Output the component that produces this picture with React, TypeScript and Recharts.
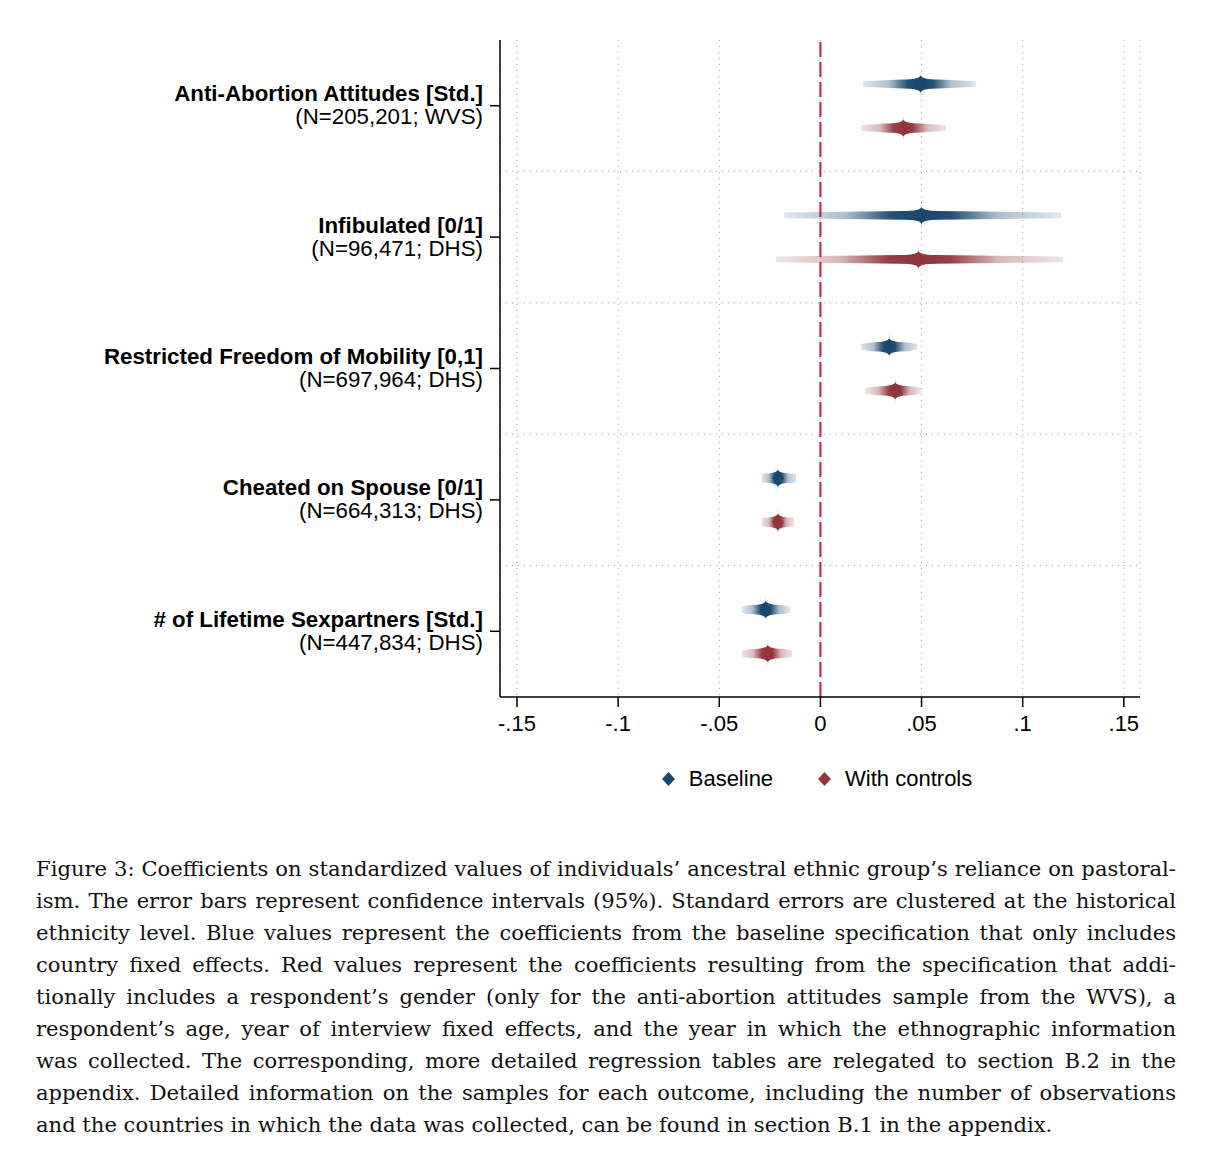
import React from "react";
import {
  BarChart,
  Bar,
  XAxis,
  YAxis,
  CartesianGrid,
  ReferenceLine,
  Legend,
} from "recharts";

// outcomes (top to bottom) and their sample notes
const OUTCOMES = [
  "Anti-Abortion Attitudes [Std.]",
  "Infibulated [0/1]",
  "Restricted Freedom of Mobility [0,1]",
  "Cheated on Spouse [0/1]",
  "# of Lifetime Sexpartners [Std.]",
];
const SAMPLES = [
  "(N=205,201; WVS)",
  "(N=96,471; DHS)",
  "(N=697,964; DHS)",
  "(N=664,313; DHS)",
  "(N=447,834; DHS)",
];

// baseline: coefficient and 95% CI
const BASE_COEF = [0.0495, 0.05, 0.034, -0.021, -0.027];
const BASE_LO = [0.021, -0.018, 0.02, -0.029, -0.039];
const BASE_HI = [0.077, 0.119, 0.048, -0.012, -0.015];

// with controls: coefficient and 95% CI
const CTRL_COEF = [0.041, 0.0485, 0.037, -0.021, -0.026];
const CTRL_LO = [0.02, -0.022, 0.022, -0.029, -0.039];
const CTRL_HI = [0.062, 0.12, 0.05, -0.013, -0.014];

const X_TICKS = [-0.15, -0.1, -0.05, 0, 0.05, 0.1, 0.15];
const X_TICK_LABELS = ["-.15", "-.1", "-.05", "0", ".05", ".1", ".15"];

const CAPTION = [
  "Figure 3: Coefficients on standardized values of individuals’ ancestral ethnic group’s reliance on pastoral-",
  "ism. The error bars represent confidence intervals (95%). Standard errors are clustered at the historical",
  "ethnicity level. Blue values represent the coefficients from the baseline specification that only includes",
  "country fixed effects. Red values represent the coefficients resulting from the specification that addi-",
  "tionally includes a respondent’s gender (only for the anti-abortion attitudes sample from the WVS), a",
  "respondent’s age, year of interview fixed effects, and the year in which the ethnographic information",
  "was collected. The corresponding, more detailed regression tables are relegated to section B.2 in the",
  "appendix. Detailed information on the samples for each outcome, including the number of observations",
  "and the countries in which the data was collected, can be found in section B.1 in the appendix.",
];

const BLUE = "#1a476f";
const RED = "#90353b";
const ZERO_LINE = "#c41a46";
const FONT = "'Liberation Sans', Arial, Helvetica, sans-serif";

const data = OUTCOMES.map((outcome, i) => ({
  outcome,
  sample: SAMPLES[i],
  base: [BASE_LO[i], BASE_HI[i]],
  baseCoef: BASE_COEF[i],
  ctrl: [CTRL_LO[i], CTRL_HI[i]],
  ctrlCoef: CTRL_COEF[i],
}));

// spindle-shaped CI with a faded gradient and a diamond at the estimate
function makeSpindle(color: string, rangeKey: string, coefKey: string, id: string) {
  return function Spindle(props: any) {
    const { x, y, width, height, payload, index } = props;
    const L = Math.min(x, x + width);
    const R = Math.max(x, x + width);
    const w = R - L;
    const [lo, hi] = payload[rangeKey];
    const f = (payload[coefKey] - lo) / (hi - lo);
    const px = L + w * f;
    const cy = y + height / 2;
    const e = 2.8;
    const m = 4.4;
    const a = Math.min(18, px - L);
    const b = Math.min(18, R - px);
    const gid = `${id}-${index}`;
    const body =
      `M${L},${cy - e} L${px - a},${cy - m} Q${px - 1.5},${cy - m} ${px},${cy - 8.5} ` +
      `Q${px + 1.5},${cy - m} ${px + b},${cy - m} L${R},${cy - e} L${R},${cy + e} ` +
      `L${px + b},${cy + m} Q${px + 1.5},${cy + m} ${px},${cy + 8.5} ` +
      `Q${px - 1.5},${cy + m} ${px - a},${cy + m} L${L},${cy + e} Z`;
    const spike =
      `M${px - 2.5},${cy} Q${px - 0.4},${cy - 4} ${px},${cy - 14} Q${px + 0.4},${cy - 4} ${px + 2.5},${cy} ` +
      `Q${px + 0.4},${cy + 4} ${px},${cy + 14} Q${px - 0.4},${cy + 4} ${px - 2.5},${cy} Z`;
    const s = (t: number) => f * t;
    const r = (t: number) => f + (1 - f) * t;
    return (
      <g>
        <defs>
          <linearGradient id={gid} gradientUnits="userSpaceOnUse" x1={L} x2={R} y1={cy} y2={cy}>
            <stop offset={0} stopColor={color} stopOpacity={0.13} />
            <stop offset={s(0.45)} stopColor={color} stopOpacity={0.35} />
            <stop offset={s(0.78)} stopColor={color} stopOpacity={0.95} />
            <stop offset={f} stopColor={color} stopOpacity={1} />
            <stop offset={r(0.22)} stopColor={color} stopOpacity={0.95} />
            <stop offset={r(0.55)} stopColor={color} stopOpacity={0.35} />
            <stop offset={1} stopColor={color} stopOpacity={0.13} />
          </linearGradient>
        </defs>
        <path d={body} fill={`url(#${gid})`} />
        <path d={spike} fill={color} fillOpacity={0.25} />
        <polygon
          points={`${px},${cy - 6.5} ${px + 6},${cy} ${px},${cy + 6.5} ${px - 6},${cy}`}
          fill={color}
        />
      </g>
    );
  };
}

const OutcomeTick = (props: any) => {
  const { x, y, payload } = props;
  const i = OUTCOMES.indexOf(payload.value);
  return (
    <g>
      <text x={x} y={y - 12} textAnchor="end" dominantBaseline="central" fontFamily={FONT} fontSize={22.3} fontWeight="bold" fill="#000">
        {payload.value}
      </text>
      <text x={x} y={y + 11} textAnchor="end" dominantBaseline="central" fontFamily={FONT} fontSize={22.3} fill="#000">
        {SAMPLES[i]}
      </text>
    </g>
  );
};

const LegendContent = (props: any) => {
  const items = props.payload || [];
  return (
    <div style={{ display: "flex", justifyContent: "center", gap: 45, height: 40, alignItems: "center", fontFamily: FONT, fontSize: 22, color: "#000" }}>
      {items.map((it: any) => (
        <div key={it.value} style={{ display: "flex", alignItems: "center", gap: 14 }}>
          <svg width={13} height={14}>
            <polygon points="6.5,0 13,7 6.5,14 0,7" fill={it.color} />
          </svg>
          <span>{it.value}</span>
        </div>
      ))}
    </div>
  );
};

export default function App() {
  return (
    <div style={{ position: "absolute", top: 0, left: 0, width: 1216, height: 1150, background: "#fff" }}>
      <BarChart
        width={1216}
        height={820}
        data={data}
        layout="vertical"
        margin={{ top: 40, right: 76, bottom: 21, left: 0 }}
        barSize={30}
        barGap={14}
      >
        <CartesianGrid
          stroke="#a0a0a0"
          strokeDasharray="1 5"
          horizontalCoordinatesGenerator={({ offset }: any) =>
            OUTCOMES.slice(1).map((_, k) => offset.top + (offset.height * (k + 1)) / OUTCOMES.length)
          }
        />
        <XAxis
          type="number"
          domain={[-0.1584, 0.158]}
          allowDataOverflow
          ticks={X_TICKS}
          tickFormatter={(v: number) => X_TICK_LABELS[X_TICKS.indexOf(v)] ?? String(v)}
          height={62}
          tickSize={10}
          tickMargin={8}
          tick={{ fontSize: 22, fill: "#000", fontFamily: FONT }}
          axisLine={{ stroke: "#000", strokeWidth: 1.5 }}
          tickLine={{ stroke: "#000", strokeWidth: 1.5 }}
        />
        <YAxis
          type="category"
          dataKey="outcome"
          width={500}
          tickSize={10}
          tickMargin={7}
          tick={<OutcomeTick />}
          axisLine={{ stroke: "#000", strokeWidth: 1.5 }}
          tickLine={{ stroke: "#000", strokeWidth: 1.5 }}
        />
        <Bar
          dataKey="base"
          name="Baseline"
          fill={BLUE}
          isAnimationActive={false}
          shape={makeSpindle(BLUE, "base", "baseCoef", "gb")}
        />
        <Bar
          dataKey="ctrl"
          name="With controls"
          fill={RED}
          isAnimationActive={false}
          shape={makeSpindle(RED, "ctrl", "ctrlCoef", "gr")}
        />
        <ReferenceLine x={0} stroke={ZERO_LINE} strokeWidth={2} strokeDasharray="15 5" />
        <Legend
          verticalAlign="bottom"
          height={40}
          wrapperStyle={{ left: 497, width: 640 }}
          content={<LegendContent />}
        />
      </BarChart>
      <div
        style={{
          position: "absolute",
          top: 853,
          left: 36,
          width: 1140,
          fontFamily: "'DejaVu Serif', serif",
          fontSize: 21.1,
          lineHeight: "32px",
          color: "#111",
        }}
      >
        {CAPTION.map((line, i) => (
          <div
            key={i}
            style={{
              whiteSpace: "nowrap",
              textAlign: "justify",
              textAlignLast: i === CAPTION.length - 1 ? "left" : "justify",
            }}
          >
            {line}
          </div>
        ))}
      </div>
    </div>
  );
}
